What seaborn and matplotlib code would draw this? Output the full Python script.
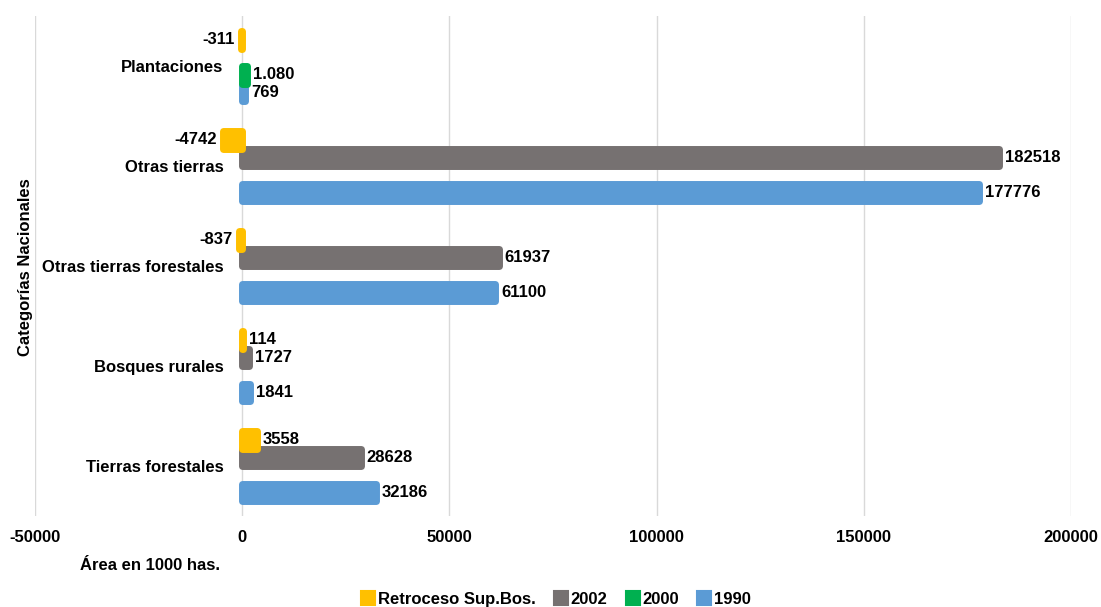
import numpy as np
import pandas as pd
import matplotlib
matplotlib.use("Agg")
import matplotlib.pyplot as plt
from matplotlib.patches import Patch
import seaborn as sns

# ---- data ----
categories = ["Plantaciones", "Otras tierras", "Otras tierras forestales",
              "Bosques rurales", "Tierras forestales"]
series_names = ["Retroceso Sup.Bos.", "2002", "2000", "1990"]
retroceso = [-311, -4742, -837, 114, 3558]
v2002 = [np.nan, 182518, 61937, 1727, 28628]
v2000 = [1080, np.nan, np.nan, np.nan, np.nan]
v1990 = [769, 177776, 61100, 1841, 32186]
x_ticks = [-50000, 0, 50000, 100000, 150000, 200000]

colors = {"Retroceso Sup.Bos.": "#FFC000", "2002": "#767171",
          "2000": "#00B050", "1990": "#5B9BD5"}

rows = []
for name, vals in zip(series_names, [retroceso, v2002, v2000, v1990]):
    for c, v in zip(categories, vals):
        if not np.isnan(v):
            rows.append({"cat": c, "serie": name, "val": v})
df = pd.DataFrame(rows)

plt.rcParams["font.family"] = ["Liberation Sans", "DejaVu Sans"]

fig = plt.figure(figsize=(11.01, 6.07), dpi=100)
ax = fig.add_axes([0.0318, 0.1499, 0.941, 0.8237])

sns.barplot(data=df, y="cat", x="val", hue="serie", order=categories,
            hue_order=series_names, palette=colors, orient="h", width=0.7,
            saturation=1, linewidth=5, legend=False, ax=ax, errorbar=None)

zorders = {"Retroceso Sup.Bos.": 6, "2002": 5, "2000": 4, "1990": 3}
for name, cont in zip(series_names, ax.containers):
    for p in cont:
        p.set_edgecolor(p.get_facecolor())
        p.set_joinstyle("round")
        p.set_zorder(zorders[name])
        w = p.get_width()
        y = p.get_y() + p.get_height() / 2
        if name == "2000":
            txt = f"{w:,.0f}".replace(",", ".")
        else:
            txt = f"{w:.0f}"
        if w >= 0:
            ax.annotate(txt, (w, y), xytext=(4.3, 0), textcoords="offset points",
                        ha="left", va="center", fontsize=12, fontweight="bold",
                        zorder=10)
        else:
            ax.annotate(txt, (w, y), xytext=(-4.3, 0), textcoords="offset points",
                        ha="right", va="center", fontsize=12, fontweight="bold",
                        zorder=10)

ax.spines["left"].set_position(("data", 0))
for s in ax.spines.values():
    s.set_visible(False)
ax.set_xlim(-50000, 200000)
ax.set_ylim(len(categories) - 0.5, -0.5)
ax.set_xticks(x_ticks)
ax.set_xticklabels([str(t) for t in x_ticks], fontsize=12, fontweight="bold")
ax.set_yticks(range(len(categories)))
ax.set_yticklabels(categories, fontsize=12, fontweight="bold")
ax.tick_params(axis="x", length=0, pad=10)
ax.tick_params(axis="y", length=0, pad=13.5)
ax.grid(axis="x", color="#D9D9D9", linewidth=1)
ax.grid(axis="y", visible=False)
ax.set_axisbelow(True)
ax.set_xlabel("")
ax.set_ylabel("")

fig.text(0.023, 1 - 267 / 607, "Categorías Nacionales", rotation=90,
         ha="center", va="center", fontsize=12, fontweight="bold")
fig.text(80 / 1101, 1 - 566 / 607, "Área en 1000 has.", ha="left",
         va="center", fontsize=12, fontweight="bold")

handles = [Patch(facecolor=colors[n], edgecolor=colors[n], linewidth=1.5,
                 joinstyle="round") for n in series_names]
fig.legend(handles, series_names, loc="center",
           bbox_to_anchor=(556 / 1101, 1 - 599 / 607), ncol=4, frameon=False,
           prop={"size": 12, "weight": "bold"}, handlelength=0.85,
           handleheight=0.85, handletextpad=0.15, columnspacing=1.1,
           borderpad=0, borderaxespad=0)

fig.savefig("out.png", dpi=100)
